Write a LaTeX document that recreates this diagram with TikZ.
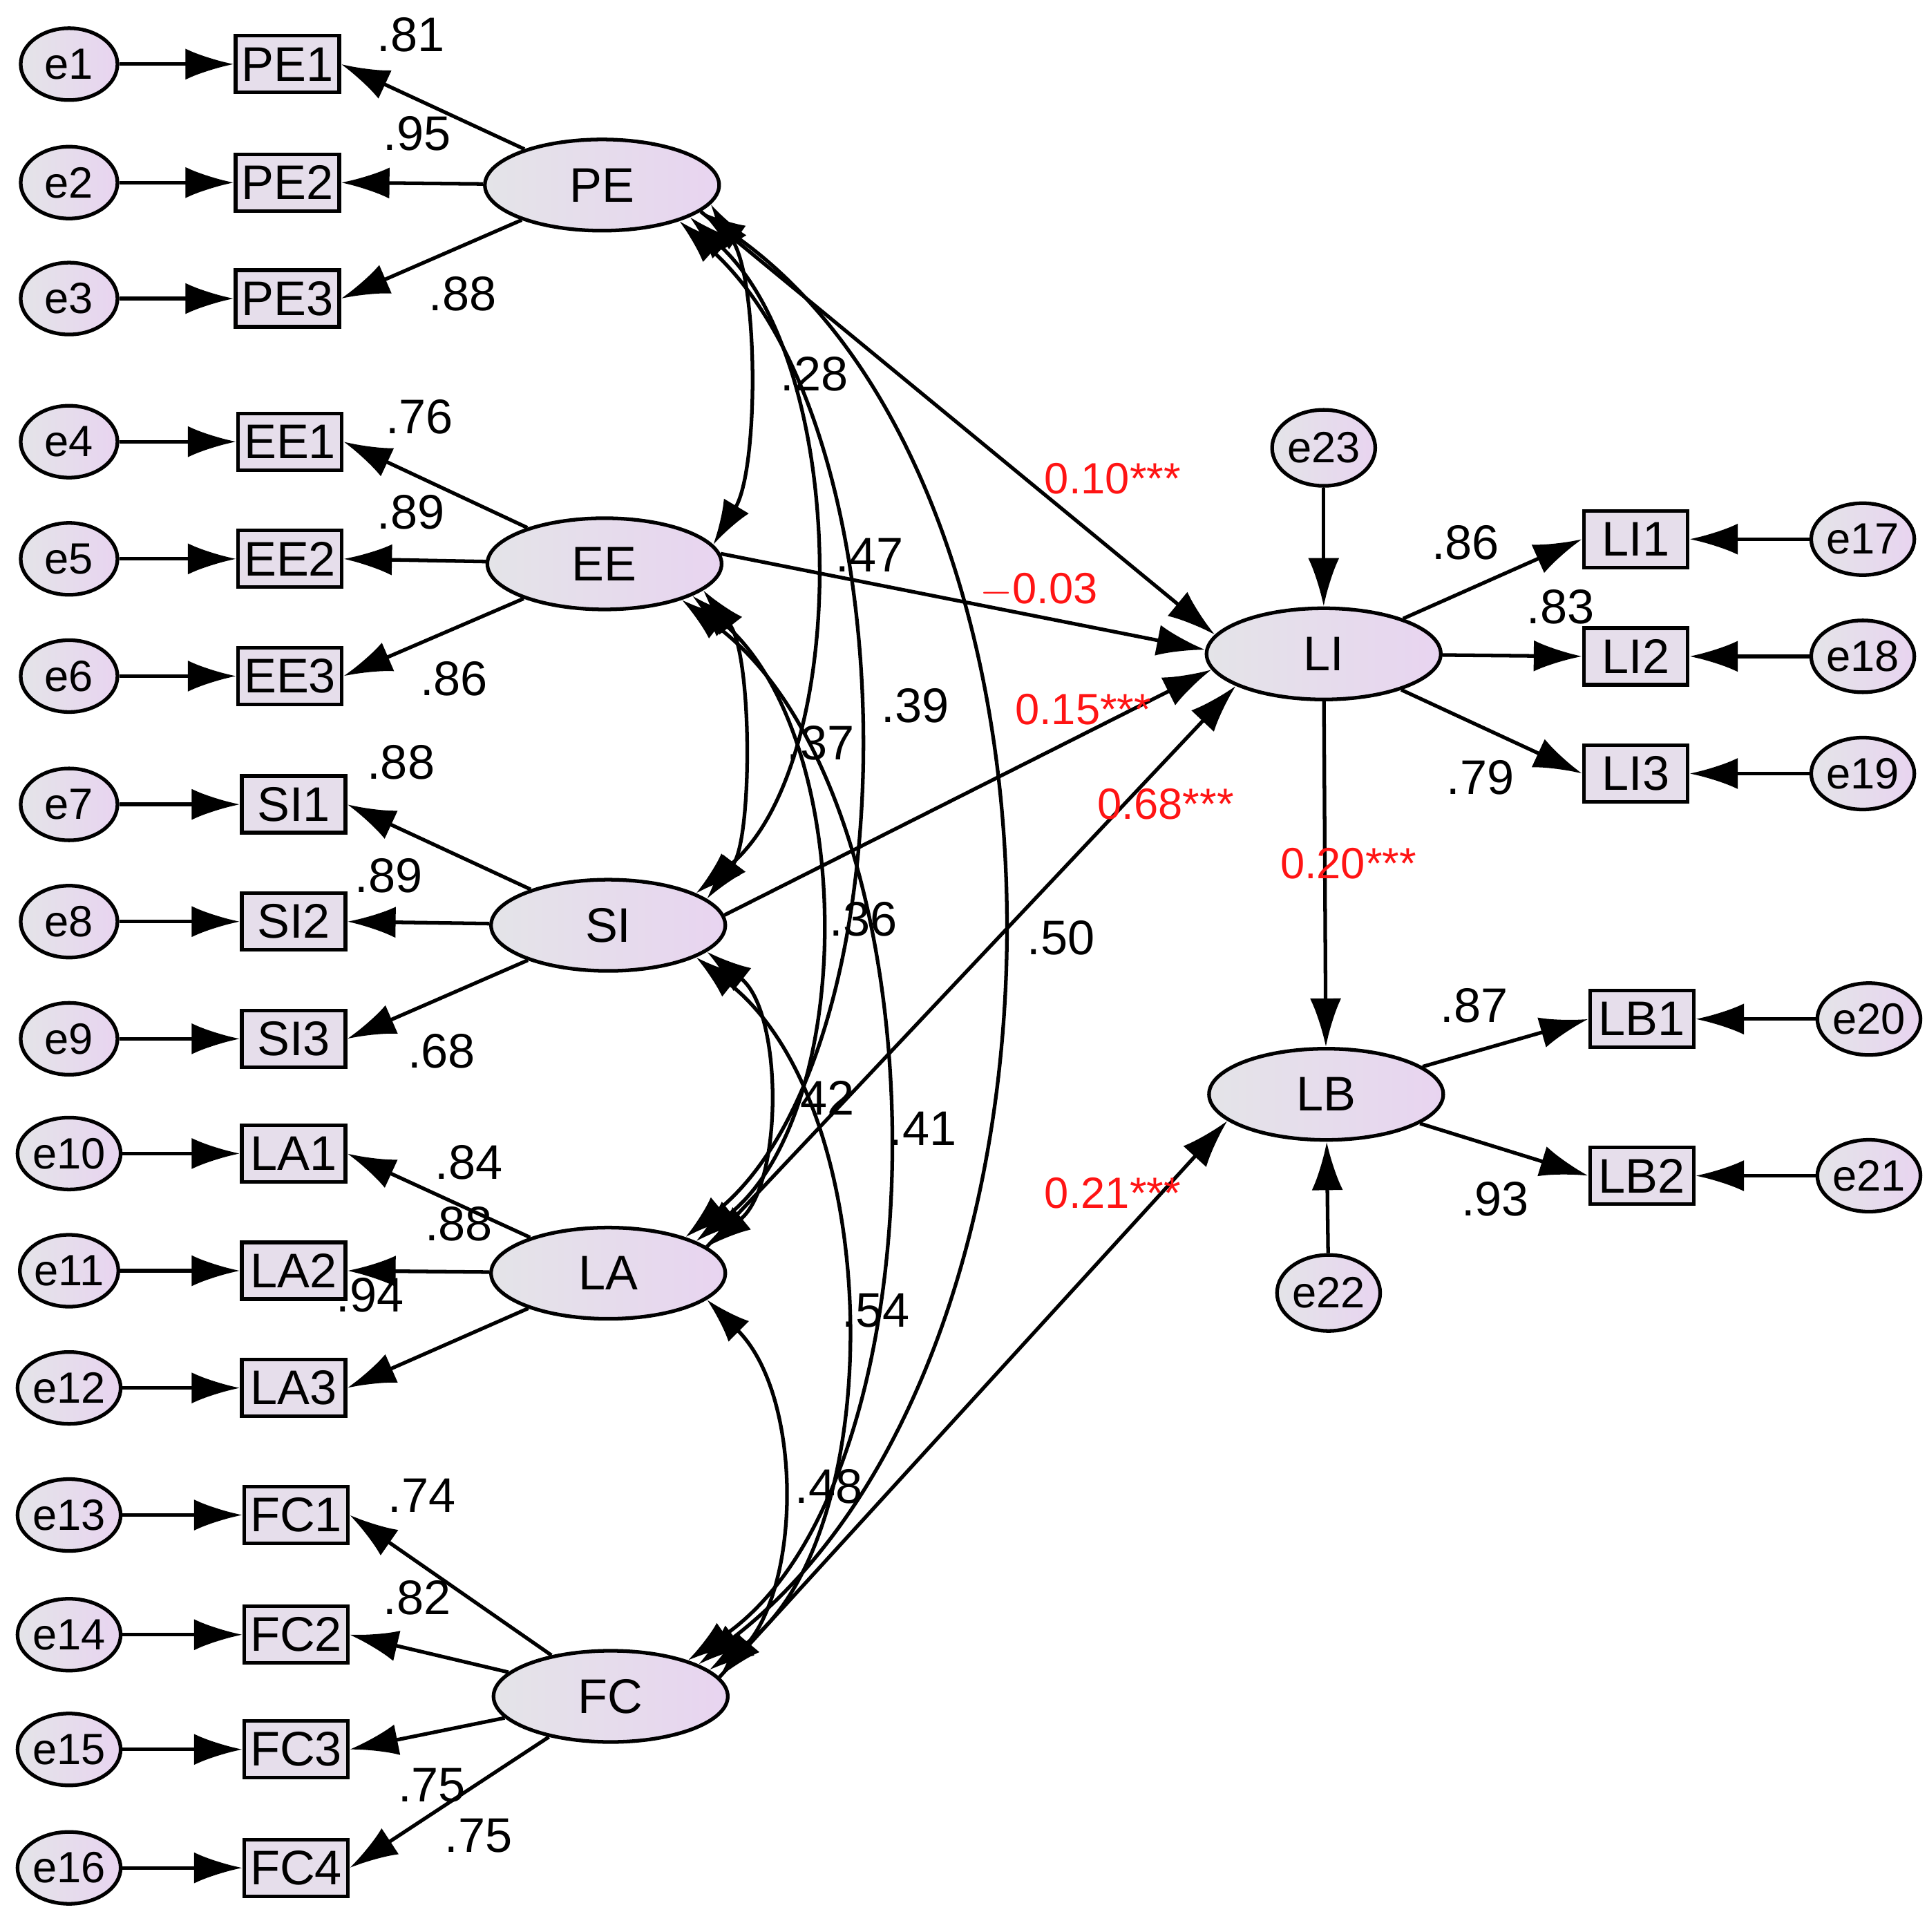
\documentclass[tikz,border=0pt]{standalone}
\usepackage{fontspec}
\setmainfont{Liberation Sans}
\usetikzlibrary{shapes.geometric,arrows.meta}
\definecolor{lav}{RGB}{232,212,240}
\definecolor{gr}{RGB}{228,228,232}
\definecolor{rd}{RGB}{255,20,20}
\begin{document}
\begin{tikzpicture}[x=0.01786cm,y=-0.01786cm,
  every node/.style={font=\fontsize{20}{22}\selectfont},
  err/.style={ellipse,draw,line width=1.5pt,left color=gr,right color=lav,minimum width=1.4cm,minimum height=1.04cm,inner sep=0pt,font=\fontsize{18}{20}\selectfont},
  lat/.style={ellipse,draw,line width=1.5pt,left color=gr,right color=lav,minimum width=3.39cm,minimum height=1.32cm,inner sep=0pt},
  box/.style={rectangle,draw,line width=1.5pt,fill=gr!60!lav,minimum width=1.5cm,minimum height=0.82cm,inner sep=0pt},
  ar/.style={line width=1.5pt,-{Latex[length=0.7cm,width=0.45cm]}},
  dar/.style={line width=1.5pt,{Latex[length=0.65cm,width=0.42cm]}-{Latex[length=0.65cm,width=0.42cm]}},
  lb/.style={font=\fontsize{20}{22}\selectfont},
  rl/.style={font=\fontsize{18}{20}\selectfont,text=rd}]
\useasboundingbox (0,0) rectangle (1562,1566);
\foreach \i/\y/\b/\bx in {1/52/PE1/233,2/148/PE2/233,3/242/PE3/233,4/358/EE1/235,5/453/EE2/235,6/548/EE3/235,7/652/SI1/238,8/747/SI2/238,9/842/SI3/238,10/935/LA1/238,11/1030/LA2/238,12/1125/LA3/238,13/1228/FC1/240,14/1325/FC2/240,15/1418/FC3/240,16/1514/FC4/240}{
  \node[err] (e\i) at (56,\y) {e\i};
  \node[box] (\b) at (\bx,\y) {\b};
  \draw[ar] (e\i) -- (\b);
}
\node[lat] (PE) at (488,150) {PE};
\node[lat] (EE) at (490,457) {EE};
\node[lat] (SI) at (493,750) {SI};
\node[lat] (LA) at (493,1032) {LA};
\node[lat] (FC) at (495,1375) {FC};
\node[lat] (LI) at (1073,530) {LI};
\node[lat] (LB) at (1075,887) {LB};
\node[err,minimum height=1.1cm] (e23) at (1073,363) {e23};
\node[err,minimum height=1.1cm] (e22) at (1077,1048) {e22};
\foreach \b/\y/\e/\ex/\bx in {LI1/437/e17/1510/1326,LI2/532/e18/1510/1326,LI3/627/e19/1510/1326,LB1/826/e20/1515/1331,LB2/953/e21/1515/1331}{
  \node[box] (\b) at (\bx,\y) {\b};
  \node[err] (\e) at (\ex,\y) {\e};
  \draw[ar] (\e) -- (\b);
}
\foreach \L/\a/\b/\c in {PE/PE1/PE2/PE3,EE/EE1/EE2/EE3,SI/SI1/SI2/SI3,LA/LA1/LA2/LA3}{
  \draw[ar] (\L) -- (\a.east);
  \draw[ar] (\L) -- (\b.east);
  \draw[ar] (\L) -- (\c.east);
}
\foreach \b in {FC1,FC2,FC3,FC4} \draw[ar] (FC) -- (\b.east);
\draw[ar] (LI) -- (LI1.west);
\draw[ar] (LI) -- (LI2.west);
\draw[ar] (LI) -- (LI3.west);
\draw[ar] (LB) -- (LB1.west);
\draw[ar] (LB) -- (LB2.west);
\draw[ar] (e23) -- (LI);
\draw[ar] (e22) -- (LB);
\draw[ar] (PE.-15) -- (LI.170);
\draw[ar] (EE.5) -- (LI.178);
\draw[ar] (SI.5) -- (LI.188);
\draw[ar] (LA.15) -- (LI.200);
\draw[ar] (FC.10) -- (LB.195);
\draw[ar] (LI) -- (LB);
\draw[dar] (PE.-10) .. controls (615,230) and (615,380) .. (EE.10);
\draw[dar] (PE.-20) .. controls (690,300) and (690,620) .. (SI.20);
\draw[dar] (PE.-25) .. controls (740,350) and (740,850) .. (LA.25);
\draw[dar] (PE.-15) .. controls (890,400) and (890,1100) .. (FC.20);
\draw[dar] (EE.-15) .. controls (610,530) and (610,680) .. (SI.15);
\draw[dar] (EE.-20) .. controls (695,600) and (695,900) .. (LA.20);
\draw[dar] (EE.-25) .. controls (770,650) and (770,1200) .. (FC.25);
\draw[dar] (SI.-15) .. controls (635,820) and (635,960) .. (LA.15);
\draw[dar] (SI.-20) .. controls (720,900) and (720,1250) .. (FC.15);
\draw[dar] (LA.-15) .. controls (650,1130) and (650,1280) .. (FC.10);
\foreach \t/\x/\y in {.81/333/28,.95/338/108,.88/375/238,.76/340/338,.89/333/415,.86/368/550,.88/325/618,.89/315/710,.68/358/852,.84/380/942,.88/372/992,.94/300/1050,.74/342/1212,.82/338/1295,.75/350/1447,.75/388/1488,.86/1188/440,.83/1265/492,.79/1200/630,.87/1195/815,.93/1212/972,.28/660/303,.47/705/450,.39/742/572,.50/860/760,.37/665/602,.36/700/745,.41/748/915,.42/665/890,.54/710/1062,.48/672/1205}
  \node[lb] at (\x,\y) {\t};
\foreach \t/\x/\y in {0.10***/902/388,$-$0.03/842/478,0.15***/878/575,0.68***/945/652,0.20***/1093/700,0.21***/902/967}
  \node[rl] at (\x,\y) {\t};
\end{tikzpicture}
\end{document}
